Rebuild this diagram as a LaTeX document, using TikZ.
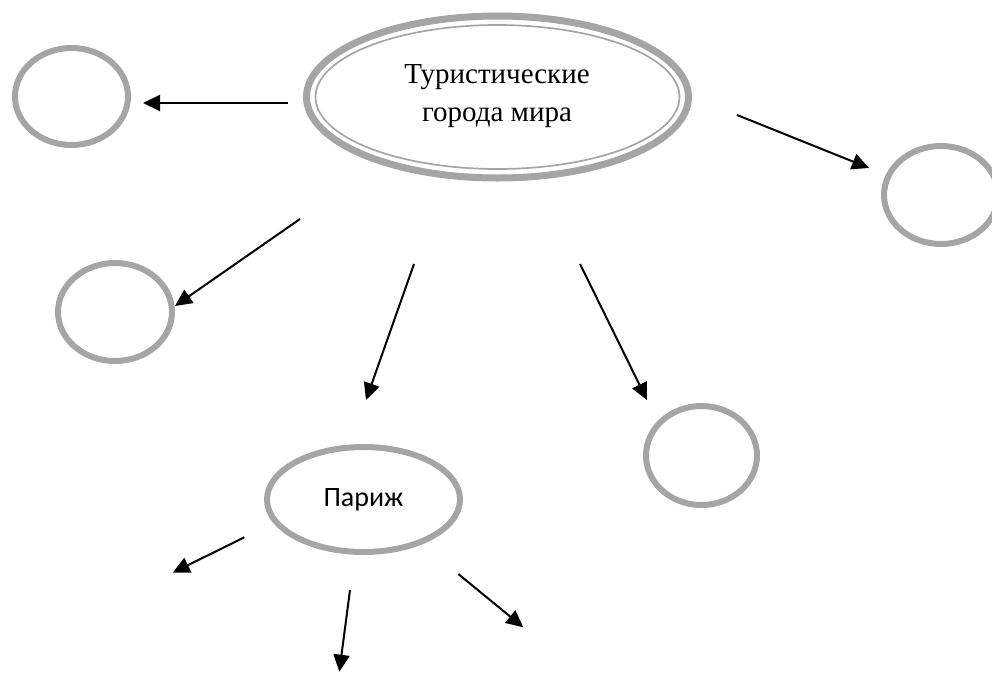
\documentclass[tikz,border=0pt]{standalone}
\usepackage{fontspec}
\setmainfont{Liberation Serif}
\newfontfamily\parisfont{Carlito}
\usetikzlibrary{arrows.meta,shapes.geometric}
\definecolor{ringgray}{HTML}{A5A5A5}
\tikzset{
  ring/.style={draw=ringgray, line width=6pt, ellipse, inner sep=0pt, fill=none},
  link/.style={line width=2pt, -{Triangle[length=17pt,width=16pt]}}
}
\begin{document}
\begin{tikzpicture}[x=1pt,y=-1pt]
\useasboundingbox (0,0) rectangle (992,672);
% main ellipse
\node[ring, line width=7pt, minimum width=382pt, minimum height=162pt] (main) at (497.5,97) {};
\draw[ringgray, line width=1.7pt] (main.center) ellipse [x radius=182pt, y radius=72pt];
\node[align=center, font=\fontsize{29}{38}\selectfont] (maintext) at (497,96) {Туристические\\города мира};
% satellite circles
\node[ring, minimum width=113pt, minimum height=97pt] (c1) at (71.5,96.5) {};
\node[ring, minimum width=114pt, minimum height=98pt] (c2) at (941,195) {};
\node[ring, minimum width=114pt, minimum height=98pt] (c3) at (115,312) {};
\node[ring, minimum width=111pt, minimum height=99pt] (c4) at (701.5,455.5) {};
\node[ring, minimum width=193pt, minimum height=105pt, font=\parisfont\fontsize{28}{32}\selectfont] (paris) at (363.5,499.5) {Париж};
% connector ends
\coordinate (s1) at (288,103);   \coordinate (e1) at (143,103);
\coordinate (s2) at (737,115);   \coordinate (e2) at (869,168);
\coordinate (s3) at (300,219);   \coordinate (e3) at (175,306);
\coordinate (s4) at (414,264);   \coordinate (e4) at (366,400);
\coordinate (s5) at (580,264);   \coordinate (e5) at (647,400);
\coordinate (s6) at (244.3,537.3); \coordinate (e6) at (172.7,572.7);
\coordinate (s7) at (350,590);   \coordinate (e7) at (339.3,671.7);
\coordinate (s8) at (458.3,574); \coordinate (e8) at (523.3,627.3);
\foreach \i in {1,...,8} {\draw[link] (s\i) -- (e\i);}
\end{tikzpicture}
\end{document}
